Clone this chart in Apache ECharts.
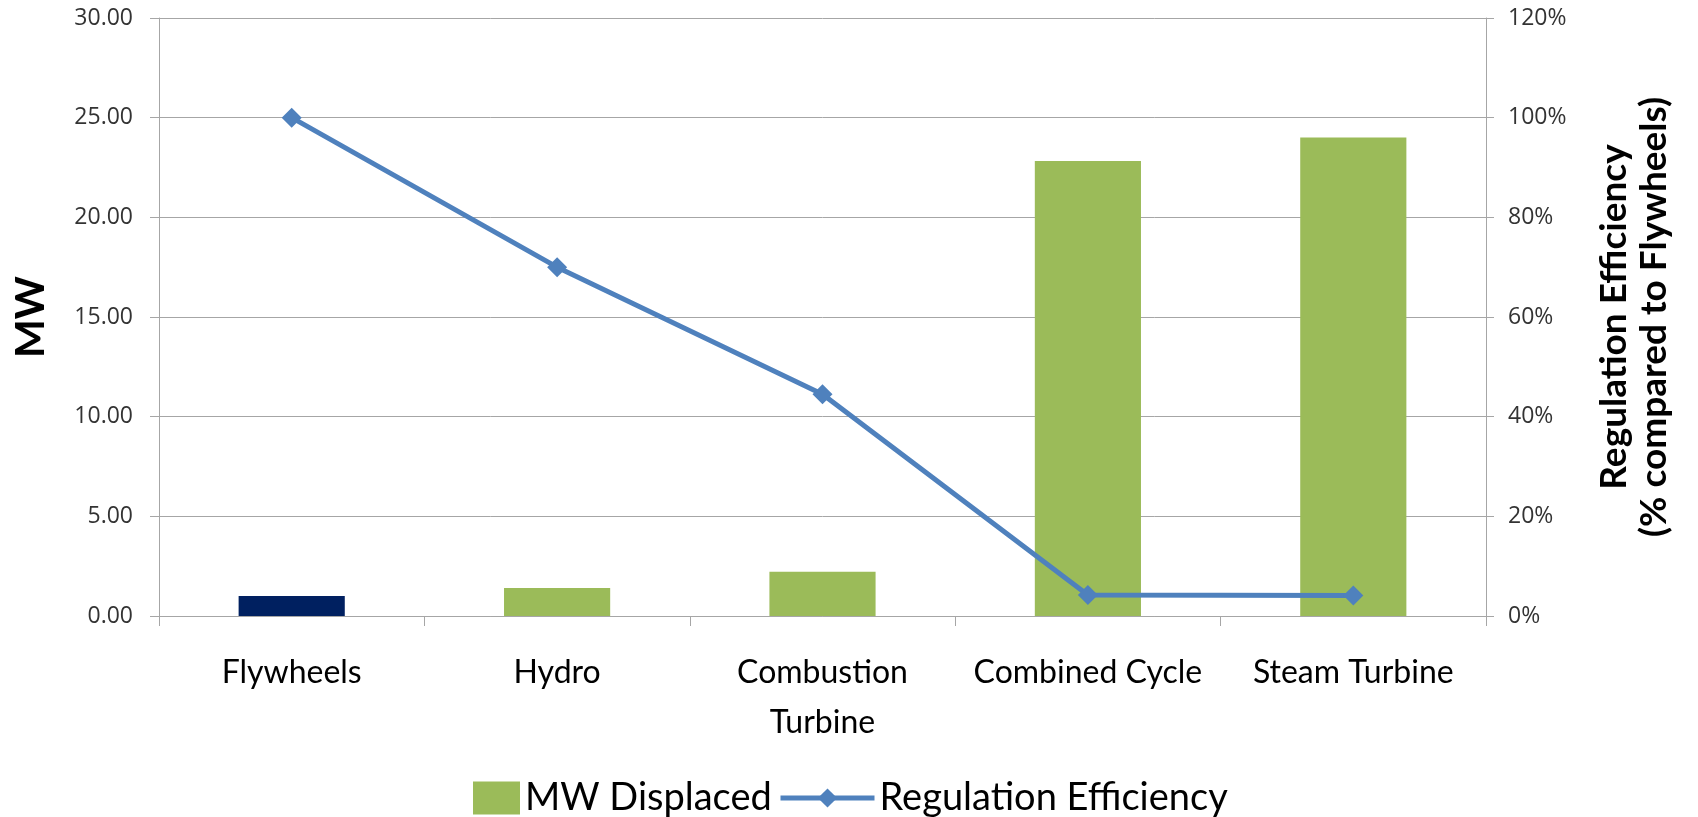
<!DOCTYPE html>
<html>
<head>
<meta charset="utf-8">
<script src="https://cdn.jsdelivr.net/npm/echarts@6/dist/echarts.min.js"></script>
<style>
  html, body { margin: 0; padding: 0; background: #fff; }
  #chart { width: 1698px; height: 817px; }
</style>
</head>
<body>
<div id="chart"></div>
<script>
const categories = ['Flywheels', 'Hydro', 'Combustion\nTurbine', 'Combined Cycle', 'Steam Turbine']
const mwDisplaced = [1.0, 1.4, 2.22, 22.83, 24.0]
const regEfficiency = [100, 70, 44.5, 4.2, 4.1] // percent
const leftTicks = { min: 0, max: 30, interval: 5 }
const rightTicks = { min: 0, max: 120, interval: 20 }

const green = '#9BBB59'
const navy = '#002060'
const blue = '#4F81BD'
const gridGray = '#A6A6A6'

const chart = echarts.init(document.getElementById('chart'))

const legendText = { fontFamily: 'Lato', fontSize: 38, lineHeight: 38, color: '#000' }

chart.setOption({
  animation: false,
  grid: { left: 159, right: 212, top: 18, bottom: 201 },
  legend: [{
    data: [{ name: 'MW Displaced', icon: 'rect' }],
    left: 468,
    top: 774,
    itemWidth: 47,
    itemHeight: 33,
    textStyle: legendText
  }, {
    data: [{ name: 'Regulation Efficiency', lineStyle: { width: 5, color: blue } }],
    left: 773,
    top: 774,
    itemWidth: 94,
    itemHeight: 24,
    lineStyle: { width: 5 },
    textStyle: legendText
  }],
  xAxis: {
    type: 'category',
    data: categories,
    axisLine: { lineStyle: { color: gridGray, width: 1 } },
    axisTick: { show: true, length: 10, lineStyle: { color: gridGray } },
    axisLabel: {
      fontFamily: 'Lato',
      fontSize: 32,
      lineHeight: 50,
      color: '#000',
      margin: 32,
      interval: 0
    }
  },
  yAxis: [{
    type: 'value',
    min: leftTicks.min,
    max: leftTicks.max,
    interval: leftTicks.interval,
    name: 'MW',
    nameLocation: 'middle',
    nameRotate: 90,
    nameGap: 108,
    nameTextStyle: { fontFamily: 'Lato', fontWeight: 'bold', fontSize: 41, color: '#000' },
    axisLine: { show: true, lineStyle: { color: gridGray } },
    axisTick: { show: true, length: 9, lineStyle: { color: gridGray } },
    splitLine: { lineStyle: { color: gridGray, width: 1 } },
    axisLabel: {
      fontFamily: 'Open Sans',
      fontSize: 23,
      color: '#333',
      margin: 26,
      formatter: v => v.toFixed(2)
    }
  }, {
    type: 'value',
    position: 'right',
    min: rightTicks.min,
    max: rightTicks.max,
    interval: rightTicks.interval,
    name: 'Regulation Efficiency\n(% compared to Flywheels)',
    nameLocation: 'middle',
    nameRotate: 90,
    nameGap: 108,
    nameTextStyle: { fontFamily: 'Lato', fontWeight: 'bold', fontSize: 37, lineHeight: 40, color: '#000' },
    axisLine: { show: true, lineStyle: { color: gridGray } },
    axisTick: { show: true, length: 8, lineStyle: { color: gridGray } },
    splitLine: { show: false },
    axisLabel: {
      fontFamily: 'Open Sans',
      fontSize: 23,
      color: '#333',
      margin: 22,
      formatter: '{value}%'
    }
  }],
  series: [{
    name: 'MW Displaced',
    type: 'bar',
    yAxisIndex: 0,
    barWidth: '40%',
    itemStyle: { color: green },
    data: mwDisplaced.map((v, i) => i === 0 ? { value: v, itemStyle: { color: navy } } : v)
  }, {
    name: 'Regulation Efficiency',
    type: 'line',
    yAxisIndex: 1,
    data: regEfficiency,
    symbol: 'diamond',
    symbolSize: 20,
    lineStyle: { color: blue, width: 5 },
    itemStyle: { color: blue }
  }]
})
</script>
</body>
</html>
